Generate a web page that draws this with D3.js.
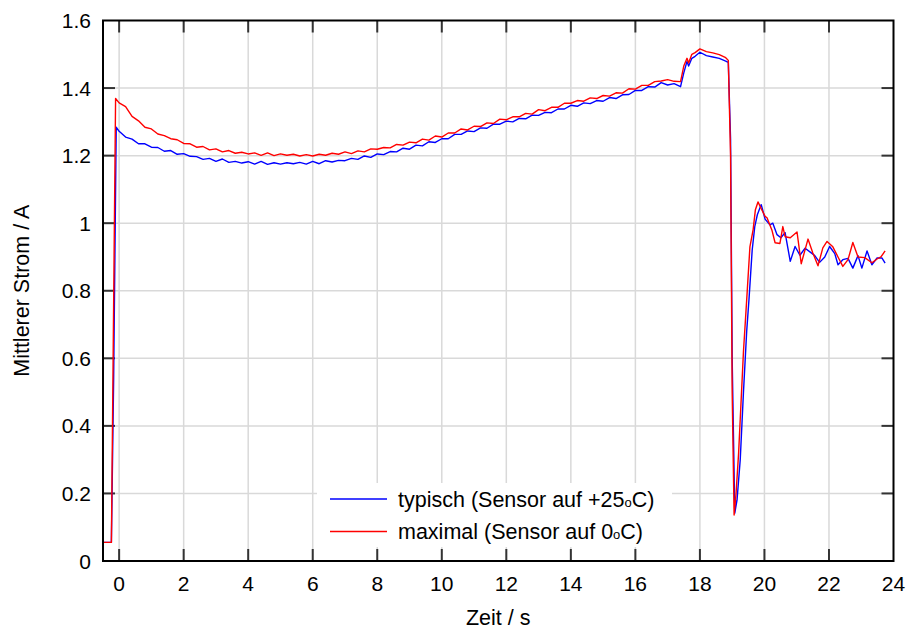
<!DOCTYPE html>
<html>
<head>
<meta charset="utf-8">
<script src="https://cdn.jsdelivr.net/npm/d3@7"></script>
<style>
  body { margin: 0; background: #fff; }
  text { font-family: "Liberation Sans", Arial, sans-serif; fill: #000; }
</style>
</head>
<body>
<svg id="chart" width="911" height="629" viewBox="0 0 911 629"></svg>
<script>
// common 0.2 s grid for the steady part of both curves
const zeitRaster = [0, 0.2, 0.4, 0.6, 0.8, 1.0, 1.2, 1.4, 1.6, 1.8, 2.0, 2.2, 2.4, 2.6, 2.8, 3.0, 3.2, 3.4, 3.6, 3.8,
  4.0, 4.2, 4.4, 4.6, 4.8, 5.0, 5.2, 5.4, 5.6, 5.8, 6.0, 6.2, 6.4, 6.6, 6.8, 7.0, 7.2, 7.4, 7.6, 7.8,
  8.0, 8.2, 8.4, 8.6, 8.8, 9.0, 9.2, 9.4, 9.6, 9.8, 10.0, 10.2, 10.4, 10.6, 10.8, 11.0, 11.2, 11.4, 11.6, 11.8,
  12.0, 12.2, 12.4, 12.6, 12.8, 13.0, 13.2, 13.4, 13.6, 13.8, 14.0, 14.2, 14.4, 14.6, 14.8, 15.0, 15.2, 15.4, 15.6, 15.8,
  16.0, 16.2, 16.4, 16.6, 16.8, 17.0, 17.2, 17.4];

// typisch (Sensor auf +25 C) - blue
const zeitTypischStart = [-0.5, -0.24, -0.17, -0.09];
const stromTypischStart = [0.055, 0.055, 0.54, 1.284];
const stromTypischRaster = [1.272, 1.255, 1.249, 1.235, 1.235, 1.225, 1.224, 1.213, 1.215, 1.204, 1.206, 1.198, 1.197, 1.189, 1.192, 1.183, 1.190, 1.180, 1.183, 1.178,
  1.182, 1.175, 1.183, 1.174, 1.179, 1.175, 1.179, 1.176, 1.180, 1.175, 1.183, 1.176, 1.185, 1.181, 1.186, 1.185, 1.192, 1.189, 1.199, 1.195,
  1.205, 1.203, 1.212, 1.211, 1.222, 1.219, 1.231, 1.229, 1.241, 1.239, 1.250, 1.250, 1.263, 1.263, 1.273, 1.271, 1.282, 1.281, 1.293, 1.293,
  1.302, 1.300, 1.310, 1.309, 1.320, 1.319, 1.328, 1.327, 1.338, 1.338, 1.349, 1.346, 1.356, 1.354, 1.363, 1.361, 1.372, 1.369, 1.380, 1.381,
  1.393, 1.393, 1.404, 1.403, 1.416, 1.409, 1.413, 1.404];
const zeitTypischEnde = [17.5, 17.6, 17.65, 17.75, 17.85, 18.0, 18.2, 18.4, 18.6, 18.8, 18.88, 18.95, 19.0, 19.08, 19.15, 19.25,
  19.35, 19.45, 19.52, 19.62, 19.7, 19.78, 19.9, 20.02, 20.17, 20.26, 20.39, 20.51, 20.64, 20.8, 20.95, 21.1, 21.26, 21.41,
  21.56, 21.71, 21.87, 22.02, 22.18, 22.28, 22.43, 22.59, 22.74, 22.9, 23.02, 23.18, 23.33, 23.49, 23.64, 23.74];
const stromTypischEnde = [1.445, 1.479, 1.465, 1.488, 1.494, 1.506, 1.496, 1.492, 1.488, 1.480, 1.476, 1.25, 0.6, 0.142, 0.18, 0.30,
  0.50, 0.68, 0.773, 0.92, 0.99, 1.025, 1.055, 1.012, 0.995, 1.0, 0.966, 0.957, 0.972, 0.887, 0.931, 0.905, 0.926, 0.915,
  0.904, 0.884, 0.90, 0.931, 0.91, 0.877, 0.892, 0.896, 0.867, 0.904, 0.867, 0.918, 0.877, 0.897, 0.897, 0.882];

// maximal (Sensor auf 0 C) - red
const zeitMaximalStart = [-0.5, -0.24, -0.11];
const stromMaximalStart = [0.055, 0.055, 1.369];
const stromMaximalRaster = [1.356, 1.345, 1.316, 1.303, 1.284, 1.279, 1.264, 1.259, 1.250, 1.247, 1.236, 1.235, 1.225, 1.227, 1.217, 1.220, 1.211, 1.215, 1.207, 1.210,
  1.205, 1.208, 1.201, 1.208, 1.200, 1.205, 1.201, 1.204, 1.199, 1.203, 1.199, 1.204, 1.201, 1.207, 1.204, 1.211, 1.206, 1.214, 1.211, 1.220,
  1.219, 1.224, 1.223, 1.233, 1.231, 1.240, 1.238, 1.249, 1.246, 1.258, 1.255, 1.267, 1.267, 1.279, 1.276, 1.287, 1.286, 1.297, 1.295, 1.308,
  1.306, 1.315, 1.315, 1.325, 1.323, 1.336, 1.333, 1.343, 1.343, 1.355, 1.355, 1.363, 1.361, 1.371, 1.369, 1.378, 1.376, 1.386, 1.385, 1.398,
  1.397, 1.408, 1.408, 1.419, 1.421, 1.425, 1.420, 1.419];
const zeitMaximalEnde = [17.5, 17.6, 17.65, 17.75, 17.85, 18.0, 18.2, 18.4, 18.6, 18.8, 18.88, 18.95, 19.0, 19.06, 19.12, 19.2,
  19.25, 19.35, 19.45, 19.55, 19.65, 19.72, 19.8, 19.89, 20.02, 20.08, 20.23, 20.33, 20.48, 20.57, 20.64, 20.8, 21.01, 21.14,
  21.35, 21.5, 21.66, 21.81, 21.94, 22.12, 22.28, 22.43, 22.59, 22.74, 22.9, 23.11, 23.33, 23.49, 23.61, 23.74];
const stromMaximalEnde = [1.465, 1.488, 1.474, 1.500, 1.505, 1.516, 1.508, 1.504, 1.499, 1.490, 1.482, 1.2, 0.5, 0.136, 0.2, 0.32,
  0.42, 0.62, 0.773, 0.93, 0.981, 1.04, 1.063, 1.045, 1.02, 1.016, 0.98, 0.942, 0.94, 0.99, 0.96, 0.957, 0.974, 0.88,
  0.953, 0.912, 0.874, 0.927, 0.946, 0.93, 0.90, 0.872, 0.892, 0.943, 0.90, 0.898, 0.883, 0.894, 0.90, 0.918];

const xTicks = [0, 2, 4, 6, 8, 10, 12, 14, 16, 18, 20, 22, 24];
const yTicks = [0, 0.2, 0.4, 0.6, 0.8, 1, 1.2, 1.4, 1.6];
const yTickLabels = ["0", "0.2", "0.4", "0.6", "0.8", "1", "1.2", "1.4", "1.6"];

function toPoints(zeit, strom) {
  return zeit.map((t, i) => ({ t: t, v: strom[i] }));
}

const typisch = toPoints(
  zeitTypischStart.concat(zeitRaster, zeitTypischEnde),
  stromTypischStart.concat(stromTypischRaster, stromTypischEnde)
);
const maximal = toPoints(
  zeitMaximalStart.concat(zeitRaster, zeitMaximalEnde),
  stromMaximalStart.concat(stromMaximalRaster, stromMaximalEnde)
);

const svg = d3.select("#chart");
const plotLeft = 103, plotRight = 893.5, plotTop = 20.5, plotBottom = 561;
const tickLen = 12;

const x = d3.scaleLinear().domain([-0.5, 24]).range([plotLeft, plotRight]);
const y = d3.scaleLinear().domain([0, 1.6]).range([plotBottom, plotTop]);

// grid
const grid = svg.append("g").attr("stroke", "#d9d9d9").attr("stroke-width", 1.5);
grid.selectAll(".vgrid")
  .data(xTicks.filter((d) => d < 24))
  .enter()
  .append("line")
  .attr("x1", (d) => x(d)).attr("x2", (d) => x(d))
  .attr("y1", plotTop).attr("y2", plotBottom);
grid.selectAll(".hgrid")
  .data(yTicks.filter((d) => d > 0 && d < 1.6))
  .enter()
  .append("line")
  .attr("x1", plotLeft).attr("x2", plotRight)
  .attr("y1", (d) => y(d)).attr("y2", (d) => y(d));

// tick marks on all four sides, pointing inward
const ticks = svg.append("g").attr("stroke", "#333").attr("stroke-width", 2);
xTicks.filter((d) => d < 24).forEach((d) => {
  ticks.append("line").attr("x1", x(d)).attr("x2", x(d)).attr("y1", plotBottom).attr("y2", plotBottom - tickLen);
  ticks.append("line").attr("x1", x(d)).attr("x2", x(d)).attr("y1", plotTop).attr("y2", plotTop + tickLen);
});
yTicks.filter((d) => d > 0 && d < 1.6).forEach((d) => {
  ticks.append("line").attr("x1", plotLeft).attr("x2", plotLeft + tickLen).attr("y1", y(d)).attr("y2", y(d));
  ticks.append("line").attr("x1", plotRight).attr("x2", plotRight - tickLen).attr("y1", y(d)).attr("y2", y(d));
});

// curves
const line = d3.line().x((d) => x(d.t)).y((d) => y(d.v));
svg.append("path")
  .datum(typisch)
  .attr("d", line)
  .attr("fill", "none")
  .attr("stroke", "#0000ff")
  .attr("stroke-width", 1.4)
  .attr("stroke-linejoin", "round");
svg.append("path")
  .datum(maximal)
  .attr("d", line)
  .attr("fill", "none")
  .attr("stroke", "#ff0000")
  .attr("stroke-width", 1.4)
  .attr("stroke-linejoin", "round");

// frame
svg.append("rect")
  .attr("x", plotLeft).attr("y", plotTop)
  .attr("width", plotRight - plotLeft).attr("height", plotBottom - plotTop)
  .attr("fill", "none").attr("stroke", "#000").attr("stroke-width", 2);

// tick labels
svg.append("g").selectAll("text")
  .data(xTicks)
  .enter()
  .append("text")
  .attr("x", (d) => x(d))
  .attr("y", 591)
  .attr("text-anchor", "middle")
  .attr("font-size", 21)
  .text((d) => d);
svg.append("g").selectAll("text")
  .data(yTicks)
  .enter()
  .append("text")
  .attr("x", 91)
  .attr("y", (d) => y(d) + 7.5)
  .attr("text-anchor", "end")
  .attr("font-size", 21)
  .text((d, i) => yTickLabels[i]);

// axis titles
svg.append("text")
  .attr("x", (plotLeft + plotRight) / 2)
  .attr("y", 625)
  .attr("text-anchor", "middle")
  .attr("font-size", 21.5)
  .text("Zeit / s");
svg.append("text")
  .attr("transform", "translate(29," + (plotTop + plotBottom) / 2 + ") rotate(-90)")
  .attr("text-anchor", "middle")
  .attr("font-size", 21.5)
  .text("Mittlerer Strom / A");

// legend
const legend = svg.append("g");
legend.append("rect")
  .attr("x", 317).attr("y", 483)
  .attr("width", 355).attr("height", 64)
  .attr("fill", "#fff");
const legendItems = [
  { color: "#0000ff", pre: "typisch (Sensor auf +25", post: "C)", yPos: 499 },
  { color: "#ff0000", pre: "maximal (Sensor auf 0", post: "C)", yPos: 531.5 },
];
legendItems.forEach((item) => {
  legend.append("line")
    .attr("x1", 330).attr("x2", 387)
    .attr("y1", item.yPos).attr("y2", item.yPos)
    .attr("stroke", item.color).attr("stroke-width", 1.4);
  const txt = legend.append("text")
    .attr("x", 398)
    .attr("y", item.yPos + 7.5)
    .attr("font-size", 21.5);
  txt.append("tspan").text(item.pre);
  txt.append("tspan").attr("font-size", 13).text("o");
  txt.append("tspan").text(item.post);
});
</script>
</body>
</html>
